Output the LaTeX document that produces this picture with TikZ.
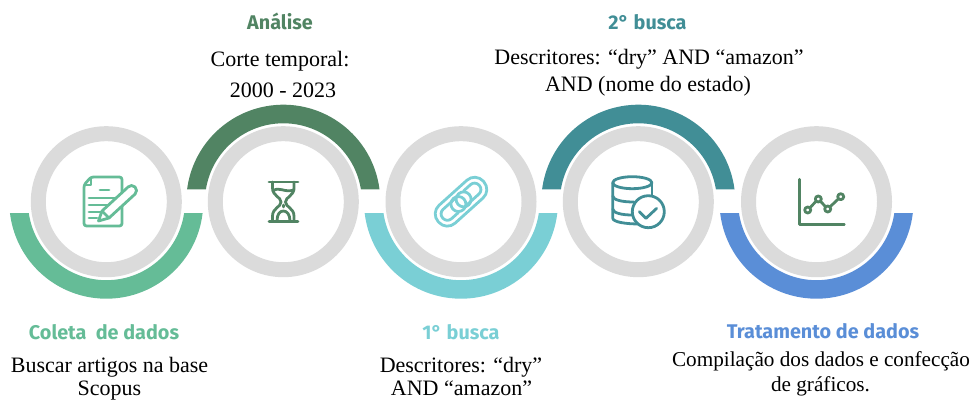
\documentclass[tikz,border=0pt]{standalone}
\usepackage{fontspec}
\setmainfont{Liberation Serif}
\newfontfamily\headfont{Fira Sans}
\definecolor{ringgray}{HTML}{DBDBDB}
\definecolor{bandone}{HTML}{65BC97}
\definecolor{bandtwo}{HTML}{518463}
\definecolor{bandthree}{HTML}{7ACFD5}
\definecolor{bandfour}{HTML}{418E96}
\definecolor{bandfive}{HTML}{5A8ED7}
\tikzset{
  ring/.style={circle,draw=ringgray,line width=15pt,minimum size=136pt,inner sep=0pt},
  head/.style={font=\headfont\bfseries\fontsize{19.8}{22}\selectfont,inner sep=0pt,anchor=base},
  body/.style={font=\fontsize{22}{26}\selectfont,inner sep=0pt,anchor=base},
  bodyfive/.style={font=\fontsize{21.2}{26}\selectfont,inner sep=0pt,anchor=base},
  icon/.style={line width=2.8pt,line cap=round,line join=round}
}
\begin{document}
\begin{tikzpicture}[x=1pt,y=1pt,yscale=-1]
      \useasboundingbox (0,0) rectangle (976,401);

      % rings
      \foreach \n/\cx in {1/106.3,2/283.3,3/461,4/638.3,5/816.5}
      { \node[ring] (ring\n) at (\cx,201.7) {}; }

      % lower bands
      \foreach \cx/\col in {106.3/bandone,461/bandthree,816.5/bandfive}
      { \fill[\col] (\cx,201.7) ++(6.7:97) arc[start angle=6.7,end angle=173.3,radius=97]
          -- ++(18.8,0) arc[start angle=171.7,end angle=8.3,radius=78.5] -- cycle; }

      % upper bands
      \foreach \cx/\col in {283.3/bandtwo,638.3/bandfour}
      { \fill[\col] (\cx,201.7) ++(-7.3:97) arc[start angle=-7.3,end angle=-172.7,radius=97]
          -- ++(18.8,0) arc[start angle=-170.9,end angle=-9.1,radius=78.5] -- cycle; }

      % sheet and pencil
      \begin{scope}[icon,draw=bandone]
        \draw[rounded corners=2.5pt] (91,177) -- (122,177) -- (122,226) -- (84,226) -- (84,185) -- cycle;
        \draw (91,178) -- (91,185) -- (85,185);
        \draw (100,190) -- (109,190);
        \draw (89,198) -- (117,198);
        \draw (89,205) -- (111,205);
        \draw (89,212) -- (103,212);
        \draw (89,218) -- (97,218);
        \fill[white,draw=bandone] (98.5,221) -- (102,211) -- (127,188) -- (128,187) arc[start angle=-135,end angle=45,radius=5] -- (109,218) -- cycle;
        \draw (102,211) -- (109,218);
      \end{scope}

      % hourglass
      \begin{scope}[icon,draw=bandtwo]
        \draw (269,182) -- (298,182);
        \draw (269,221.5) -- (298,221.5);
        \draw (272.5,182) -- (272.5,188) .. controls (272.5,196) and (281,197) .. (281,202)
              .. controls (281,207) and (272.5,208) .. (272.5,216) -- (272.5,221.5);
        \draw (294,182) -- (294,188) .. controls (294,196) and (285.5,197) .. (285.5,202)
              .. controls (285.5,207) and (294,208) .. (294,216) -- (294,221.5);
        \draw (273,191) .. controls (279,186) and (284,193) .. (294,190);
        \draw (283.3,205) -- (283.3,207);
        \draw (277,221) .. controls (277,214) and (280,211) .. (283.3,211) .. controls (286.6,211) and (290,214) .. (290,221);
      \end{scope}

      % chain
      \begin{scope}[icon,draw=bandthree,shift={(461,201.7)},rotate=-42]
        \draw[rounded corners=11.5pt] (-30.3,-12) rectangle (30.3,12);
        \draw[rounded corners=6pt] (-3,-6.3) -- (-24.5,-6.3) -- (-24.5,6.3) -- (-9,6.3);
        \draw[rounded corners=6pt] (3,6.3) -- (24.5,6.3) -- (24.5,-6.3) -- (9,-6.3);
        \draw (-3.5,0) circle (7.5);
        \draw (3.5,0) circle (7.5);
      \end{scope}

      % database
      \begin{scope}[icon,draw=bandfour]
        \draw (632.3,182.7) ellipse [x radius=19.6,y radius=6];
        \draw (612.7,182.7) -- (612.7,218) .. controls (612.7,222) and (625,224) .. (640,224);
        \draw (652,182.7) -- (652,198);
        \draw (612.7,196) .. controls (613,200) and (622,202) .. (634,202);
        \draw (612.7,209) .. controls (613,213) and (622,215) .. (632,215);
        \fill[white,draw=bandfour] (648.3,211.7) circle (16);
        \draw (639.3,211.7) -- (646,218.3) -- (656.7,208.3);
      \end{scope}

      % chart
      \begin{scope}[icon,draw=bandtwo]
        \draw (799.3,179.3) -- (799.3,224.3) -- (844.3,224.3);
        \draw (807.7,210) -- (818.3,199) -- (827.7,209) -- (840.7,196.7);
        \foreach \px/\py in {807.7/210,818.3/199,827.7/209,840.7/196.7}
        { \fill[white,draw=bandtwo] (\px,\py) circle (3); }
      \end{scope}

      % texts
      \node[head,text=bandtwo] (headtwo) at (280,29.5) {Análise};
      \node[body] (bodytwoa) at (280,66.5) {Corte temporal:};
      \node[body] (bodytwob) at (283,97.3) {2000 - 2023};
      \node[head,text=bandfour] (headfour) at (647.5,30) {2° busca};
      \node[body] (bodyfoura) at (649,65) {Descritores: “dry” AND “amazon”};
      \node[body] (bodyfourb) at (648,91.7) {AND (nome do estado)};
      \node[head,text=bandone] (headone) at (104,339) {Coleta\ \ de dados};
      \node[body] (bodyonea) at (109.5,372.5) {Buscar artigos na base};
      \node[body] (bodyoneb) at (109.5,395.5) {Scopus};
      \node[head,text=bandthree] (headthree) at (461,339.3) {1° busca};
      \node[body] (bodythreea) at (461,372.5) {Descritores: “dry”};
      \node[body] (bodythreeb) at (461.5,395.5) {AND “amazon”};
      \node[head,text=bandfive] (headfive) at (823,338.5) {Tratamento de dados};
      \node[bodyfive] (bodyfivea) at (821,366.7) {Compilação dos dados e confecção};
      \node[bodyfive] (bodyfiveb) at (820.5,391.7) {de gráficos.};

    \end{tikzpicture}
\end{document}
